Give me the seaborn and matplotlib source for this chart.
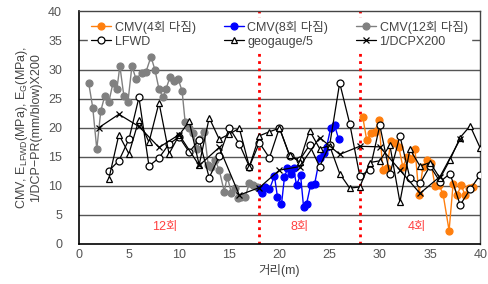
import pandas as pd
import numpy as np
import matplotlib
matplotlib.use('Agg')
import matplotlib.pyplot as plt
import seaborn as sns

# CMV 12회 다짐
x12 = [1.0, 1.4, 1.8, 2.2, 2.6, 3.0, 3.4, 3.8, 4.1, 4.5, 4.9, 5.3, 5.7, 6.3, 6.7, 7.2, 7.6, 8.0, 8.4, 8.7,
       9.1, 9.5, 9.9, 10.3, 10.6, 11.0, 11.4, 11.8, 12.1, 12.5, 12.9, 13.2, 13.6, 14.0, 14.5, 14.8, 15.2,
       15.6, 15.9, 16.2, 16.6, 17.0, 17.4, 17.8]
y12 = [27.6, 23.4, 16.3, 22.9, 25.5, 24.4, 27.6, 26.6, 30.6, 25.4, 24.4, 30.6, 28.4, 29.4, 29.6, 32.2, 29.9,
       26.6, 25.2, 26.7, 28.7, 28.0, 28.4, 26.3, 21.0, 20.0, 19.0, 16.4, 18.0, 19.3, 13.6, 13.2, 14.4, 12.7,
       9.0, 11.6, 8.8, 9.6, 7.9, 8.0, 8.1, 10.5, 10.2, 9.8]

# CMV 8회 다짐
x8 = [18.1, 18.3, 18.6, 19.0, 19.5, 19.8, 20.2, 20.5, 20.8, 21.1, 21.4, 21.7, 22.1, 22.4, 22.7, 23.1, 23.5,
      24.0, 24.4, 24.7, 25.1, 25.5, 25.9]
y8 = [9.5, 8.8, 9.8, 9.4, 11.7, 8.1, 6.8, 11.5, 13.0, 12.1, 13.0, 10.1, 11.9, 6.4, 6.9, 10.1, 10.3,
      14.7, 15.6, 16.7, 19.9, 20.4, 18.0]

# CMV 4회 다짐
x4 = [28.3, 28.7, 29.1, 29.5, 29.9, 30.3, 30.7, 31.1, 31.5, 31.9, 32.3, 32.7, 33.1, 33.5, 33.9, 34.3, 34.7,
      35.1, 35.5, 35.9, 36.3, 36.9, 37.3, 37.7, 38.1, 38.5, 38.9, 39.3]
y4 = [21.8, 17.8, 19.0, 19.3, 21.3, 12.7, 13.0, 17.7, 17.3, 16.6, 13.2, 15.0, 14.6, 16.3, 8.4, 13.3, 14.4,
      13.9, 10.0, 10.1, 8.6, 2.3, 10.3, 8.4, 10.1, 8.4, 9.6, 9.8]

# LFWD
x_lfwd = list(range(3, 41))
y_lfwd = [12.6, 14.3, 18.0, 25.2, 13.4, 14.8, 17.2, 18.4, 15.8, 17.9, 11.4, 15.1, 20.0, 17.2, 13.3, 17.4,
          14.8, 20.0, 15.2, 14.4, 17.0, 13.3, 17.0, 27.7, 20.7, 11.7, 12.7, 20.4, 12.0, 18.6, 11.3, 10.4,
          13.4, 10.7, 12.1, 6.7, 9.4, 11.9]

# geogauge/5
x_geo = list(range(3, 41))
y_geo = [11.2, 18.8, 15.5, 21.4, 17.5, 24.3, 15.5, 18.7, 21.1, 13.6, 21.7, 18.0, 18.9, 19.9, 13.3, 18.6,
         19.3, 19.9, 15.3, 14.1, 19.5, 16.4, 16.9, 12.1, 9.6, 9.8, 14.0, 14.3, 17.0, 7.2, 16.3, 13.4,
         14.0, 11.3, 14.5, 18.3, 20.3, 16.5]

# 1/DCP x 200
x_dcp = list(range(2, 39, 2))
y_dcp = [20.0, 22.3, 20.2, 16.6, 18.8, 13.5, 16.6, 8.4, 9.7, 12.7, 13.3, 18.3, 15.4, 16.8, 16.7, 12.7,
         8.7, 11.6, 18.0]

sns.set_style('white')
plt.rcParams['font.family'] = ['Liberation Sans', 'Noto Sans CJK KR', 'DejaVu Sans']
plt.rcParams['mathtext.fontset'] = 'custom'
plt.rcParams['mathtext.rm'] = 'Liberation Sans'
plt.rcParams['mathtext.it'] = 'Liberation Sans'

fig, ax = plt.subplots(figsize=(4.89, 2.84), dpi=100)
fig.subplots_adjust(left=0.161, right=0.982, bottom=0.141, top=0.96)

for yv in range(5, 40, 5):
    ax.axhline(yv, color='#555555', lw=1, zorder=0)

ax.axvline(18, color='red', lw=2, ls=(0, (1, 1.6)), zorder=1)
ax.axvline(28, color='red', lw=2, ls=(0, (1, 1.6)), zorder=1)

series = [
    (x4, y4, 'CMV(4회 다짐)', dict(color='#FF7F0E', marker='o', ms=5, mfc='#FF7F0E', mec='#FF7F0E', lw=1)),
    (x_lfwd, y_lfwd, 'LFWD', dict(color='black', marker='o', ms=5, mfc='white', mec='black', lw=0.9)),
    (x8, y8, 'CMV(8회 다짐)', dict(color='#0000FF', marker='o', ms=5, mfc='#0000FF', mec='#0000FF', lw=1)),
    (x_geo, y_geo, 'geogauge/5', dict(color='black', marker='^', ms=5, mfc='white', mec='black', lw=0.9)),
    (x12, y12, 'CMV(12회 다짐)', dict(color='#808080', marker='o', ms=5, mfc='#808080', mec='#808080', lw=1)),
    (x_dcp, y_dcp, '1/DCPX200', dict(color='black', marker='x', ms=5, mec='black', lw=0.9)),
]

order = [4, 2, 0, 1, 3, 5]
handles = {}
for i in order:
    xs, ys, lab, st = series[i]
    df = pd.DataFrame({'x': xs, 'y': ys})
    sns.lineplot(data=df, x='x', y='y', sort=False, ax=ax, label=lab, estimator=None,
                 color=st['color'], marker=st['marker'], markersize=st['ms'],
                 markerfacecolor=st.get('mfc', 'none'), markeredgecolor=st['mec'],
                 markeredgewidth=0.9, linewidth=st['lw'], zorder=3)

h, l = ax.get_legend_handles_labels()
hd = dict(zip(l, h))
labs = [s[2] for s in series]
leg = ax.legend([hd[k] for k in labs], labs, loc='upper center', ncol=3, frameon=True,
                fontsize=9, handlelength=1.6, handletextpad=0.3, columnspacing=2.2,
                labelspacing=0.15, borderpad=0.25, bbox_to_anchor=(0.5, 1.0))
leg.get_frame().set_facecolor('white')
leg.get_frame().set_edgecolor('white')
leg.get_frame().set_alpha(1)
leg.set_zorder(5)
for t in leg.get_texts():
    t.set_color('#444444')

for txt, xp in [('12회', 8.6), ('8회', 22.0), ('4회', 33.7)]:
    ax.text(xp, 3.0, txt, color='#FF4040', fontsize=9, ha='center', va='center')

ax.set_xlim(0, 40)
ax.set_ylim(0, 40)
ax.set_xticks(range(0, 41, 5))
ax.set_yticks(range(0, 41, 5))
ax.tick_params(direction='in', length=3, colors='#444444', labelsize=9, labelcolor='#555555')
ax.tick_params(axis='y', pad=12)
for s in ['left', 'bottom']:
    ax.spines[s].set_color('black')
    ax.spines[s].set_linewidth(1.2)
for s in ['top', 'right']:
    ax.spines[s].set_color('#444444')
    ax.spines[s].set_linewidth(1)

ax.set_xlabel('거리(m)', fontsize=9, color='#444444', labelpad=2)
ax.set_ylabel('CMV, E$_{LFWD}$(MPa), E$_G$(MPa),\n1/DCP\u2212PR(mm/blow)X200', fontsize=9,
              color='#444444', linespacing=1.1, labelpad=4)

fig.savefig('out.png', dpi=100)
